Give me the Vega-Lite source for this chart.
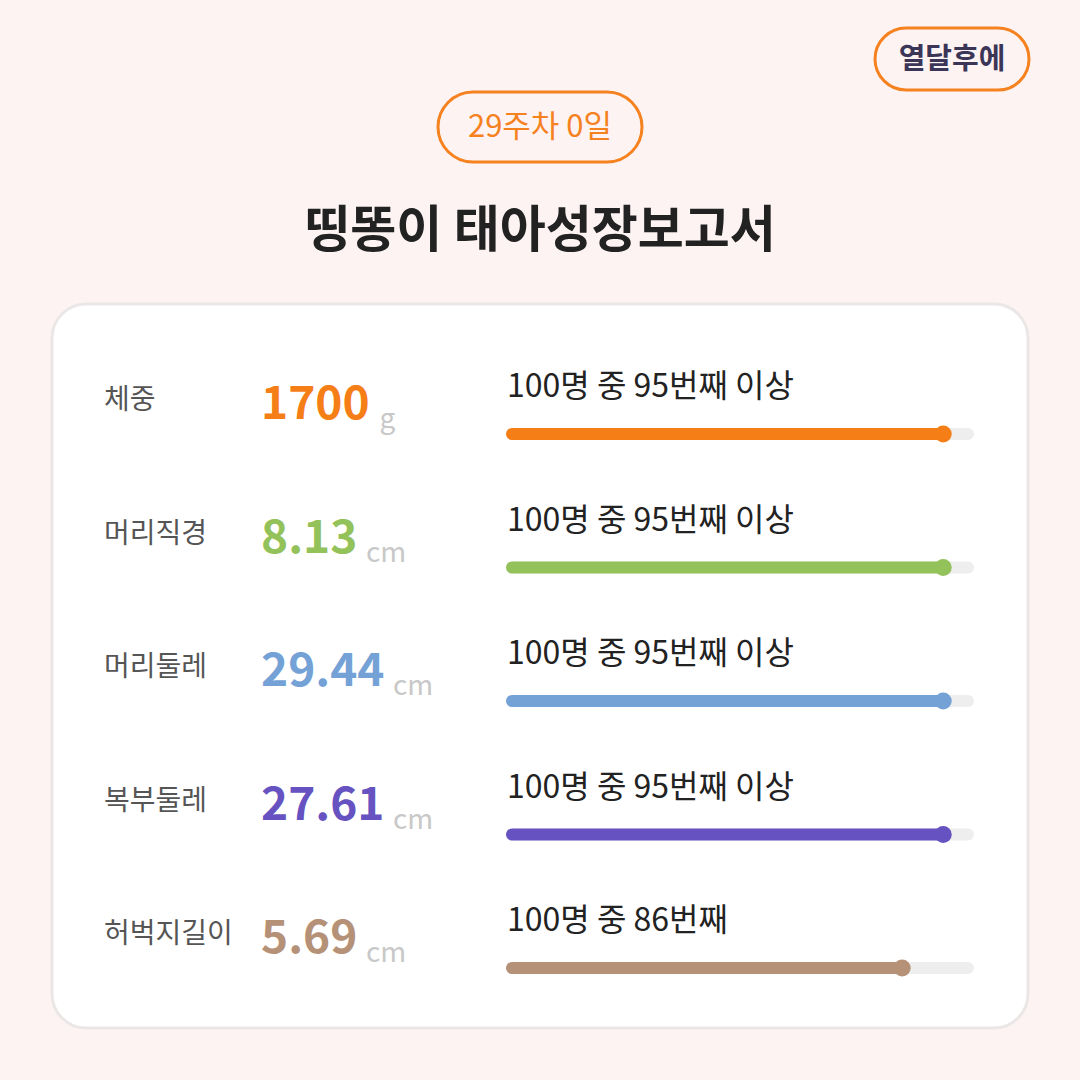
{
  "$schema": "https://vega.github.io/schema/vega-lite/v6.json",
  "width": 1080,
  "height": 1080,
  "autosize": {"type": "fit", "contains": "padding"},
  "padding": 0,
  "background": "#fdf3f3",
  "config": {"view": {"stroke": null}, "font": "Noto Sans CJK KR"},
  "data": {
    "values": [
      {"metric": "체중", "measure": "1700", "unit": "g", "pct": 95, "ptext": "100명 중 95번째 이상"},
      {"metric": "머리직경", "measure": "8.13", "unit": "cm", "pct": 95, "ptext": "100명 중 95번째 이상"},
      {"metric": "머리둘레", "measure": "29.44", "unit": "cm", "pct": 95, "ptext": "100명 중 95번째 이상"},
      {"metric": "복부둘레", "measure": "27.61", "unit": "cm", "pct": 95, "ptext": "100명 중 95번째 이상"},
      {"metric": "허벅지길이", "measure": "5.69", "unit": "cm", "pct": 86, "ptext": "100명 중 86번째"}
    ]
  },
  "layer": [
    {
      "data": {"values": [{}]},
      "mark": {"type": "rect", "fill": "#ffffff", "stroke": "#ebe7e7", "strokeWidth": 3, "cornerRadius": 34},
      "encoding": {"x": {"value": 52}, "x2": {"value": 1028}, "y": {"value": 304}, "y2": {"value": 1028}}
    },
    {
      "data": {"values": [{}]},
      "mark": {"type": "rect", "fill": "#fdf3f3", "stroke": "#f5821f", "strokeWidth": 3, "cornerRadius": 35},
      "encoding": {"x": {"value": 438}, "x2": {"value": 642}, "y": {"value": 92}, "y2": {"value": 162}}
    },
    {
      "data": {"values": [{}]},
      "mark": {"type": "text", "text": "29주차 0일", "fontSize": 31, "color": "#f5821f", "align": "center", "baseline": "middle", "letterSpacing": -1},
      "encoding": {"x": {"value": 540}, "y": {"value": 128}}
    },
    {
      "data": {"values": [{}]},
      "mark": {"type": "rect", "fill": "#fdf3f3", "stroke": "#f5821f", "strokeWidth": 3, "cornerRadius": 31},
      "encoding": {"x": {"value": 875}, "x2": {"value": 1029}, "y": {"value": 28}, "y2": {"value": 90}}
    },
    {
      "data": {"values": [{}]},
      "mark": {"type": "text", "text": "열달후에", "fontSize": 29, "fontWeight": "bold", "color": "#3b3658", "align": "center", "baseline": "middle"},
      "encoding": {"x": {"value": 952}, "y": {"value": 60}}
    },
    {
      "data": {"values": [{}]},
      "mark": {"type": "text", "text": "띵똥이 태아성장보고서", "fontSize": 50, "fontWeight": "bold", "color": "#222222", "align": "center", "baseline": "middle", "letterSpacing": -1},
      "encoding": {"x": {"value": 540}, "y": {"value": 232}}
    },
    {
      "mark": {"type": "rule", "strokeWidth": 12, "strokeCap": "round", "color": "#eeeeee"},
      "encoding": {
        "y": {"field": "metric", "type": "nominal", "scale": {"type": "point", "domain": ["체중", "머리직경", "머리둘레", "복부둘레", "허벅지길이"], "range": [434, 968], "padding": 0}, "axis": null},
        "x": {"field": "full", "type": "quantitative", "scale": {"domain": [0, 100], "range": [512, 968]}, "axis": null},
        "x2": {"datum": 0}
      },
      "transform": [{"calculate": "100", "as": "full"}]
    },
    {
      "mark": {"type": "rule", "strokeWidth": 12, "strokeCap": "round"},
      "encoding": {
        "y": {"field": "metric", "type": "nominal", "axis": null},
        "x": {"field": "pct", "type": "quantitative", "scale": {"domain": [0, 100], "range": [512, 968]}, "axis": null},
        "x2": {"datum": 0},
        "color": {"field": "metric", "type": "nominal", "scale": {"domain": ["체중", "머리직경", "머리둘레", "복부둘레", "허벅지길이"], "range": ["#f57e17", "#93c15a", "#74a2d6", "#6652c0", "#b59178"]}, "legend": null}
      }
    },
    {
      "mark": {"type": "circle", "size": 290, "opacity": 1},
      "encoding": {
        "y": {"field": "metric", "type": "nominal", "axis": null},
        "x": {"field": "pct", "type": "quantitative", "scale": {"domain": [0, 100], "range": [510, 966]}, "axis": null},
        "color": {"field": "metric", "type": "nominal", "legend": null}
      }
    },
    {
      "mark": {"type": "text", "align": "left", "baseline": "alphabetic", "dx": -3, "dy": -37, "fontSize": 32, "letterSpacing": -1.2, "color": "#222222"},
      "encoding": {
        "y": {"field": "metric", "type": "nominal", "axis": null},
        "x": {"datum": 0, "type": "quantitative", "scale": {"domain": [0, 100], "range": [510, 966]}, "axis": null},
        "text": {"field": "ptext"}
      }
    },
    {
      "mark": {"type": "text", "align": "left", "baseline": "middle", "dy": -33, "fontSize": 28, "color": "#555555"},
      "encoding": {
        "y": {"field": "metric", "type": "nominal", "axis": null},
        "x": {"value": 104},
        "text": {"field": "metric"}
      }
    },
    {
      "mark": {"type": "text", "align": "left", "baseline": "alphabetic", "dy": -15, "fontSize": 46, "fontWeight": "bold"},
      "encoding": {
        "y": {"field": "metric", "type": "nominal", "axis": null},
        "x": {"value": 261},
        "text": {"field": "measure"},
        "color": {"field": "metric", "type": "nominal", "legend": null}
      }
    },
    {
      "transform": [{"calculate": "length(datum.measure) - (indexof(datum.measure, '.') >= 0 ? 0.5 : 0)", "as": "glyphs"}],
      "mark": {"type": "text", "align": "left", "baseline": "alphabetic", "dy": -6, "fontSize": 28, "color": "#c8c8c8"},
      "encoding": {
        "y": {"field": "metric", "type": "nominal", "axis": null},
        "x": {"field": "glyphs", "type": "quantitative", "scale": {"domain": [3.5, 4.5], "range": [366, 393], "zero": false}, "axis": null},
        "text": {"field": "unit"}
      }
    }
  ],
  "resolve": {"scale": {"x": "independent"}}
}
